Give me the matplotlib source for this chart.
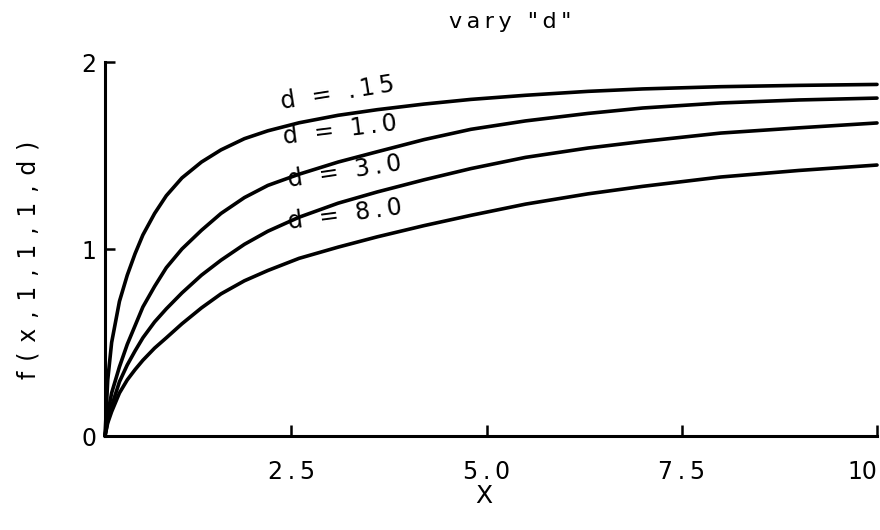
import matplotlib
matplotlib.use("Agg")
import matplotlib.pyplot as plt

# Curve samples f(x,1,1,1,d) for several values of d
x_vals = [0.115, 0.15, 0.2, 0.3, 0.4, 0.5, 0.6, 0.75, 0.9, 1.1, 1.35, 1.6, 1.9,
          2.2, 2.6, 3.1, 3.6, 4.2, 4.8, 5.5, 6.3, 7.0, 8.0, 9.0, 10.0]
f_d015 = [0.0, 0.30, 0.50, 0.72, 0.86, 0.975, 1.075, 1.19, 1.285, 1.38, 1.465, 1.53, 1.59,
          1.632, 1.675, 1.715, 1.745, 1.775, 1.80, 1.822, 1.843, 1.856, 1.868, 1.875, 1.880]
f_d1 = [0.0, 0.12, 0.23, 0.37, 0.49, 0.59, 0.69, 0.80, 0.90, 1.00, 1.10, 1.19, 1.275,
        1.34, 1.40, 1.465, 1.52, 1.585, 1.64, 1.685, 1.725, 1.754, 1.781, 1.797, 1.807]
f_d3 = [0.0, 0.08, 0.16, 0.29, 0.38, 0.455, 0.525, 0.61, 0.68, 0.765, 0.86, 0.94, 1.025,
        1.095, 1.17, 1.245, 1.305, 1.37, 1.43, 1.49, 1.54, 1.575, 1.62, 1.648, 1.674]
f_d8 = [0.0, 0.07, 0.13, 0.23, 0.30, 0.355, 0.405, 0.47, 0.525, 0.60, 0.685, 0.76, 0.83,
        0.885, 0.95, 1.01, 1.065, 1.125, 1.18, 1.24, 1.295, 1.335, 1.385, 1.42, 1.449]

series = [f_d015, f_d1, f_d3, f_d8]
curve_labels = ["d = .15", "d = 1.0", "d = 3.0", "d = 8.0"]
label_pos = [(3.10, 1.834), (3.13, 1.636), (3.19, 1.412), (3.19, 1.182)]
label_rot = [9, 7, 8.5, 7.5]

x_ticks = [2.5, 5.0, 7.5, 10.0]
x_ticklabels = ["2.5", "5.0", "7.5", "10"]
y_ticks = [0, 1, 2]
y_ticklabels = ["0", "1", "2"]

THIN = "\u2009"
EN = "\u2002"
WIDE = " \u200a"


def spaced(s, gap):
    return gap.join(s)


plt.rcParams["font.family"] = ["DejaVu Sans"]

fig = plt.figure(figsize=(8.8, 5.3), dpi=100)
ax = fig.add_axes([105 / 880, 1 - 436 / 530, (877 - 105) / 880, (436 - 62) / 530])

for ys in series:
    ax.plot(x_vals, ys, color="black", lw=2.6, solid_capstyle="round",
            solid_joinstyle="round", clip_on=False)

ax.set_xlim(0.115, 10.0)
ax.set_ylim(0, 2)

for sp in ("top", "right"):
    ax.spines[sp].set_visible(False)
for sp in ("left", "bottom"):
    ax.spines[sp].set_linewidth(2.2)

ax.set_xticks(x_ticks)
ax.set_xticklabels([spaced(t, THIN) if "." in t else t for t in x_ticklabels])
ax.set_yticks(y_ticks)
ax.set_yticklabels(y_ticklabels)
ax.tick_params(axis="x", direction="in", length=8, width=1.8, labelsize=17, pad=17)
ax.tick_params(axis="y", direction="in", length=7, width=1.8, labelsize=17, pad=6)
last = ax.get_xticklabels()[-1]
last.set_ha("right")

for txt, (lx, ly), rot in zip(curve_labels, label_pos, label_rot):
    ax.text(lx, ly, spaced(txt.replace(" ", ""), THIN).replace("=", EN + "=" + EN),
            fontsize=17, rotation=rot, rotation_mode="anchor",
            ha="center", va="center")

ax.set_xlabel("X", fontsize=18)
ax.xaxis.set_label_coords((484 - 105) / 772, -(484 - 436) / 374)
ax.set_ylabel(spaced("f(x,1,1,1,d)", WIDE), fontsize=17)
ax.yaxis.set_label_coords(-(105 - 40) / 772, (436 - 260) / 374)

fig.text(510 / 880, 1 - 22 / 530, spaced('vary "d"', THIN), fontsize=16,
         ha="center", va="center")

fig.savefig("out.png", dpi=100, facecolor="white")
